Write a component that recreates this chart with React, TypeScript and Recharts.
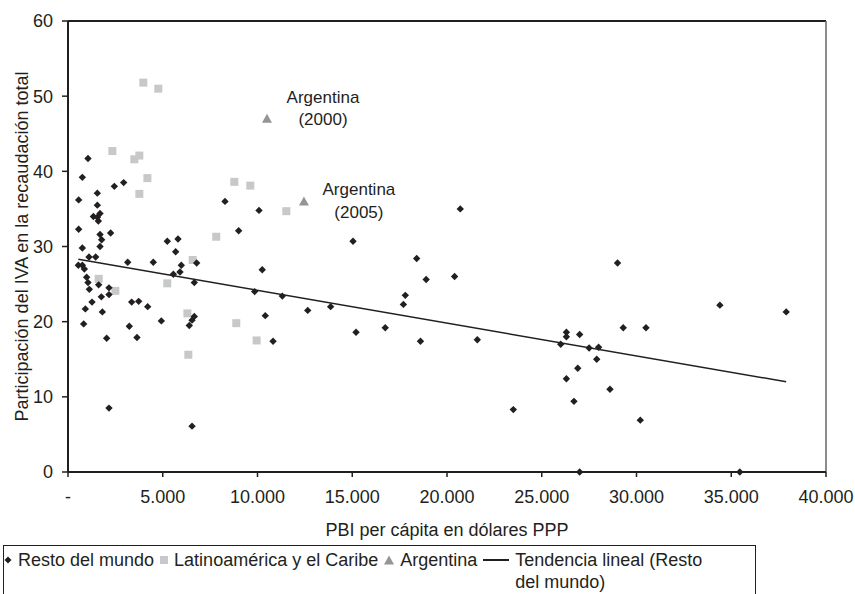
import { ReferenceDot, ReferenceLine, Scatter, ScatterChart, XAxis, YAxis } from 'recharts'

// [PBI per cápita PPP, participación del IVA %]
const restoDelMundo: [number, number][] = [
  [545, 27.5], [757, 27.5], [862, 27.0], [985, 25.9], [1055, 25.2], [1125, 24.3],
  [1267, 22.6], [915, 21.7], [827, 19.7], [563, 36.2], [563, 32.3], [757, 39.2],
  [1055, 41.7], [757, 29.8], [1108, 28.6], [1460, 28.6], [1340, 34.0], [1550, 33.9],
  [1600, 33.4], [1548, 37.1], [1548, 35.5], [1690, 34.4], [1690, 31.6], [1775, 30.9],
  [1690, 30.0], [1618, 24.9], [1760, 23.3], [1813, 21.3], [2163, 24.5], [2163, 23.6],
  [2040, 17.8], [2163, 8.5], [2250, 31.8], [2445, 38.0], [2937, 38.5], [3150, 27.9],
  [3360, 22.6], [3730, 22.7], [3235, 19.4], [3640, 17.9], [4205, 22.0], [4500, 27.9],
  [4925, 20.1], [5240, 30.7], [5805, 31.0], [5680, 29.3], [5560, 26.3], [5910, 26.6],
  [5980, 27.5], [6665, 25.2], [6790, 27.8], [6400, 19.5], [6545, 20.2], [6665, 20.7],
  [6545, 6.1], [8285, 36.0], [9005, 32.1], [10080, 34.8], [9850, 24.0], [10250, 26.9],
  [11310, 23.4], [12650, 21.5], [13860, 22.0], [10410, 20.8], [10820, 17.4], [15040, 30.7],
  [15200, 18.6], [16740, 19.2], [17700, 22.3], [17800, 23.5], [18400, 28.4], [18600, 17.4],
  [18900, 25.6], [20400, 26.0], [20700, 35.0], [21600, 17.6], [23500, 8.3], [26000, 17.0],
  [26300, 18.6], [26300, 18.0], [26300, 12.4], [26700, 9.4], [26900, 13.8], [27000, 18.3],
  [27000, 0], [27500, 16.5], [27900, 15.0], [28000, 16.6], [28600, 11.0], [29000, 27.8],
  [29300, 19.2], [30200, 6.9], [30500, 19.2], [34400, 22.2], [35450, 0], [37900, 21.3],
]

const latinoamerica: [number, number][] = [
  [3975, 51.8], [4766, 51.0], [2340, 42.7], [3500, 41.6], [3765, 42.1], [4190, 39.1],
  [3765, 37.0], [1620, 25.7], [2500, 24.1], [5240, 25.1], [6300, 21.1], [6350, 15.6],
  [6580, 28.2], [7825, 31.3], [8776, 38.6], [9620, 38.1], [8880, 19.8], [9955, 17.5],
  [11520, 34.7],
]

const argentina: [number, number][] = [
  [10500, 47.0],
  [12450, 36.0],
]
const argentinaYears = ['2000', '2005']

// extremos de la tendencia lineal
const tendencia: [number, number][] = [
  [545, 28.3],
  [37900, 12.0],
]

const xTicks = [0, 5000, 10000, 15000, 20000, 25000, 30000, 35000, 40000]
const yTicks = [0, 10, 20, 30, 40, 50, 60]

const legendLabels = [
  'Resto del mundo',
  'Latinoamérica y el Caribe',
  'Argentina',
  'Tendencia lineal (Resto del mundo)',
]

const INK = '#231f20'
const LIGHT = '#c7c8ca'
const MID = '#939598'
const FONT = '"Liberation Sans", Arial, sans-serif'

const toPoints = (rows: [number, number][]) => rows.map(([x, y]) => ({ x, y }))

const thousands = (value: number) =>
  value === 0 ? '-' : value.toLocaleString('de-DE', { maximumFractionDigits: 0 })

const Diamond = (props: any) => {
  const { cx, cy } = props
  const r = 3.7
  return <path d={`M${cx},${cy - r}L${cx + r},${cy}L${cx},${cy + r}L${cx - r},${cy}Z`} fill={INK} />
}

const Square = (props: any) => {
  const { cx, cy } = props
  return <rect x={cx - 4} y={cy - 4} width={8} height={8} fill={LIGHT} />
}

const Triangle = (props: any) => {
  const { cx, cy } = props
  return <path d={`M${cx},${cy - 5}L${cx + 5},${cy + 4}L${cx - 5},${cy + 4}Z`} fill={MID} />
}

const NoShape = () => <g />

// label placement next to each Argentina point, in pixels
const annotationOffsets = [
  { dx: 56, dy: -22 },
  { dx: 55, dy: -12 },
]

function ArgentinaNote({ cx, cy, index, year }: any) {
  const { dx, dy } = annotationOffsets[index]
  return (
    <text textAnchor="middle" fontSize={17} fill={INK} fontFamily={FONT}>
      <tspan x={cx + dx} y={cy + dy} dy="0.35em">Argentina</tspan>
      <tspan x={cx + dx} y={cy + dy + 22.5} dy="0.35em">({year})</tspan>
    </text>
  )
}

function LegendBox() {
  const item = { display: 'flex', alignItems: 'flex-start', gap: 6 }
  return (
    <div
      style={{
        position: 'absolute',
        left: 3,
        top: 545,
        width: 753,
        height: 60,
        border: `1px solid ${INK}`,
        boxSizing: 'border-box',
        display: 'flex',
        alignItems: 'flex-start',
        gap: 6,
        padding: '3px 0 0 0',
        fontSize: 18,
        lineHeight: '22px',
        color: INK,
        fontFamily: FONT,
      }}
    >
      <div style={item}>
        <svg width={8} height={22}><path d="M4,7.5L7.5,11L4,14.5L0.5,11Z" fill={INK} /></svg>
        <span>{legendLabels[0]}</span>
      </div>
      <div style={item}>
        <svg width={8} height={22}><rect x={0} y={7} width={8} height={8} fill={LIGHT} /></svg>
        <span>{legendLabels[1]}</span>
      </div>
      <div style={item}>
        <svg width={10} height={22}><path d="M5,6.5L10,15.5L0,15.5Z" fill={MID} /></svg>
        <span>{legendLabels[2]}</span>
      </div>
      <div style={item}>
        <svg width={26} height={22}><line x1={0} x2={26} y1={11} y2={11} stroke={INK} strokeWidth={2} /></svg>
        <span style={{ width: 205 }}>{legendLabels[3]}</span>
      </div>
    </div>
  )
}

export default function App() {
  const argentinaPoints = toPoints(argentina)
  return (
    <div
      style={{
        position: 'absolute',
        left: 0,
        top: 0,
        width: 855,
        height: 594,
        overflow: 'hidden',
        background: '#fff',
        fontFamily: FONT,
      }}
    >
      <ScatterChart
        width={855}
        height={594}
        margin={{ top: 21, right: 29, bottom: 82, left: 28 }}
        style={{ fontFamily: FONT }}
      >
        <XAxis
          type="number"
          dataKey="x"
          domain={[0, 40000]}
          ticks={xTicks}
          interval={0}
          tickFormatter={thousands}
          height={40}
          tickSize={5}
          tickMargin={13}
          axisLine={{ stroke: INK, strokeWidth: 2 }}
          tickLine={{ stroke: INK, strokeWidth: 1.5 }}
          tick={{ fill: INK, fontSize: 18 }}
          label={{ value: 'PBI per cápita en dólares PPP', position: 'bottom', offset: 11, fill: INK, fontSize: 18 }}
        />
        <YAxis
          type="number"
          dataKey="y"
          domain={[0, 60]}
          ticks={yTicks}
          interval={0}
          width={40}
          tickSize={6}
          tickMargin={9}
          axisLine={{ stroke: INK, strokeWidth: 2 }}
          tickLine={{ stroke: INK, strokeWidth: 1.5 }}
          tick={{ fill: INK, fontSize: 18 }}
          label={{
            value: 'Participación del IVA en la recaudación total',
            angle: -90,
            position: 'insideLeft',
            offset: -6,
            fill: INK,
            fontSize: 18,
            style: { textAnchor: 'middle' },
          }}
        />
        <ReferenceLine y={60} stroke={INK} strokeWidth={2} />
        <ReferenceLine x={40000} stroke="#666" strokeWidth={1.5} />
        <Scatter
          name={legendLabels[1]}
          data={toPoints(latinoamerica)}
          shape={Square}
          isAnimationActive={false}
        />
        <Scatter
          name={legendLabels[0]}
          data={toPoints(restoDelMundo)}
          shape={Diamond}
          isAnimationActive={false}
        />
        <Scatter
          name={legendLabels[3]}
          data={toPoints(tendencia)}
          line={{ stroke: INK, strokeWidth: 1.5 }}
          shape={NoShape}
          isAnimationActive={false}
        />
        <Scatter
          name={legendLabels[2]}
          data={argentinaPoints}
          shape={Triangle}
          isAnimationActive={false}
        />
        {argentinaPoints.map((p, i) => (
          <ReferenceDot
            key={argentinaYears[i]}
            x={p.x}
            y={p.y}
            r={0}
            shape={(props: any) => <ArgentinaNote {...props} index={i} year={argentinaYears[i]} />}
          />
        ))}
      </ScatterChart>
      <LegendBox />
    </div>
  )
}
